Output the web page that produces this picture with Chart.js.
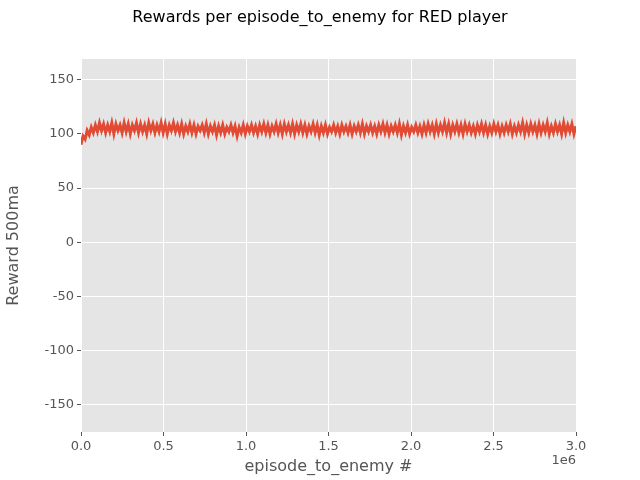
<!DOCTYPE html>
<html><head><meta charset="utf-8">
<script src="https://cdn.jsdelivr.net/npm/chart.js@4"></script>
<style>html,body{margin:0;padding:0;background:#fff}#c{display:block}</style>
</head><body>
<div style="width:640px;height:480px"><canvas id="c" width="640" height="480"></canvas></div>
<script>
const chartTitle = "Rewards per episode_to_enemy for RED player";
const xLabel = "episode_to_enemy #";
const yLabel = "Reward 500ma";
const xMax = 3000000;
const rewards = [90,98,95,103,99,106,101,108,102,110,103,109,101,108,102,110,100,109,103,108,101,110,102,109,100,108,103,110,101,109,102,108,100,110,103,109,101,108,102,110,101,109,100,108,103,110,102,108,101,109,100,107,102,109,101,108,100,107,103,108,101,109,100,107,102,108,99,107,101,108,100,106,102,108,101,107,98,106,101,108,100,107,102,108,101,107,100,108,102,109,101,108,100,107,102,109,101,108,100,109,102,108,101,109,100,108,102,109,101,108,100,107,102,109,101,108,99,107,101,108,100,106,102,108,101,107,100,108,102,107,101,108,100,107,102,108,101,109,100,107,102,108,101,107,100,108,102,109,101,108,100,107,102,108,101,109,99,107,101,108,100,106,102,108,101,107,100,108,101,109,102,108,100,109,101,108,102,110,101,109,100,108,102,109,101,108,100,109,102,108,101,107,100,108,102,109,101,108,100,107,101,109,102,108,100,107,101,108,102,109,100,107,101,108,102,110,100,108,101,109,102,108,100,109,101,108,102,110,100,107,101,109,102,108,100,110,101,108,102,109,100,107];
const xValues = rewards.map((_, i) => i * xMax / (rewards.length - 1));
const points = rewards.map((y, i) => ({x: xValues[i], y}));

const bg = {id:'bg', beforeDraw(c){const a=c.chartArea,x=c.ctx;x.save();x.fillStyle='#E5E5E5';x.fillRect(a.left,a.top,a.right-a.left,a.bottom-a.top);x.restore();},
  afterDraw(c){const x=c.ctx;x.save();x.fillStyle='#000';x.font='16px "DejaVu Sans"';x.textAlign='center';x.textBaseline='middle';x.fillText(chartTitle,320,18);
  x.fillStyle='#555';x.font='13px "DejaVu Sans"';x.textAlign='right';x.fillText('1e6',576,461);x.restore();}};

new Chart(document.getElementById('c'), {
  type:'line',
  data:{datasets:[{data:points,borderColor:'#E24A33',borderWidth:3,pointRadius:0,tension:0}]},
  options:{responsive:false,animation:false,
    layout:{padding:{top:59,right:64,left:0,bottom:0}},
    plugins:{legend:{display:false},tooltip:{enabled:false}},
    scales:{
      x:{type:'linear',min:0,max:xMax,
        ticks:{stepSize:500000,color:'#555',font:{size:13,family:'DejaVu Sans'},callback:v=>(v/1e6).toFixed(1),maxRotation:0},
        grid:{color:'#fff',lineWidth:1,drawTicks:true,tickColor:'#555',tickLength:4},border:{display:false},
        title:{display:true,text:xLabel,color:'#555',font:{size:16,family:'DejaVu Sans'},padding:{top:2}},
        afterFit(s){s.height=48;}},
      y:{min:-175,max:169,
        ticks:{stepSize:50,color:'#555',font:{size:13,family:'DejaVu Sans'}},
        afterBuildTicks(s){s.ticks=[-150,-100,-50,0,50,100,150].map(v=>({value:v}));},
        grid:{color:'#fff',lineWidth:1,tickColor:'#555',tickLength:4},border:{display:false},
        title:{display:true,text:yLabel,color:'#555',font:{size:16,family:'DejaVu Sans'},padding:{top:4,bottom:0}},
        afterFit(s){s.width=81;}}
    }},
  plugins:[bg]
});
</script>
</body></html>
